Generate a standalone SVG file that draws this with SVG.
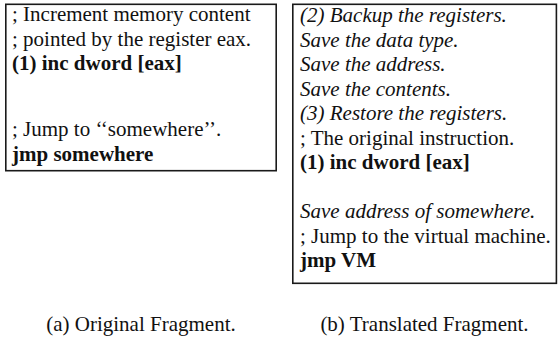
<svg xmlns="http://www.w3.org/2000/svg" width="558" height="348" viewBox="0 0 558 348">
<style>
text{font-family:"Liberation Serif","Times New Roman",serif;font-size:21px;fill:#111}
.b{font-weight:bold}
.i{font-style:italic}
.box{fill:#fff;stroke:#1a1a1a;stroke-width:1.6}
.cap{text-anchor:middle}
</style>
<rect width="558" height="348" fill="#fff"/>
<g id="original-fragment">
<rect class="box" x="5.8" y="4.3" width="270.4" height="166.4"/>
<text x="12" y="21">; Increment memory content</text>
<text x="12" y="45.5">; pointed by the register eax.</text>
<text class="b" x="12" y="70">(1) inc dword [eax]</text>
<text x="12" y="136">; Jump to ‘‘somewhere’’.</text>
<text class="b" x="12" y="160.5">jmp somewhere</text>
</g>
<g id="translated-fragment">
<rect class="box" x="292.8" y="4.3" width="263.6" height="279"/>
<text class="i" x="300" y="22">(2) Backup the registers.</text>
<text class="i" x="300" y="46.5">Save the data type.</text>
<text class="i" x="300" y="71">Save the address.</text>
<text class="i" x="300" y="95.5">Save the contents.</text>
<text class="i" x="300" y="120">(3) Restore the registers.</text>
<text x="300" y="144.5">; The original instruction.</text>
<text class="b" x="300" y="169">(1) inc dword [eax]</text>
<text class="i" x="300" y="218">Save address of somewhere.</text>
<text x="300" y="242.5">; Jump to the virtual machine.</text>
<text class="b" x="300" y="267">jmp VM</text>
</g>
<g id="connectors"></g>
<g id="captions">
<text class="cap" x="141" y="331">(a) Original Fragment.</text>
<text class="cap" x="424.5" y="331">(b) Translated Fragment.</text>
</g>
</svg>
